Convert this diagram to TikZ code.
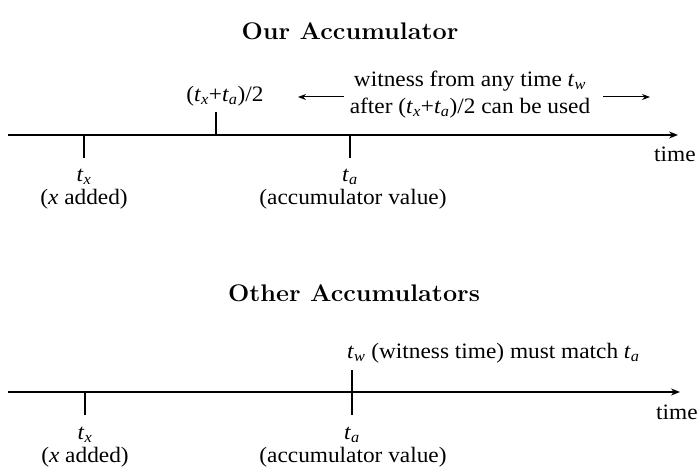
\documentclass[tikz,border=0pt]{standalone}
\usepackage{fontspec}
\usepackage{graphicx}
\usetikzlibrary{arrows.meta}
\newfontfamily\labelfont{Liberation Serif}
\newfontfamily\titlefont{Latin Modern Roman}
% italic time symbol with an italic subscript
\newcommand{\tv}[1]{\textit{t}\textsubscript{\textit{#1}}}
% slightly widened text
\newcommand{\widen}[1]{\scalebox{1.06}[1]{#1}}
\newcommand{\widenttl}[1]{\scalebox{1.05}[1]{#1}}
\begin{document}
\begin{tikzpicture}[x=1pt,y=-1pt,
  lbl/.style={font=\labelfont\fontsize{22}{25}\selectfont, inner sep=0pt},
  ttl/.style={font=\titlefont\bfseries\fontsize{24}{27}\selectfont, inner sep=0pt},
  axis/.style={line width=1.3pt, -{Stealth[length=9pt,width=7pt]}},
  tick/.style={line width=1.2pt},
  hint/.style={line width=1pt, -{Stealth[length=8pt,width=6pt]}}]
\useasboundingbox (0,0) rectangle (699,468);

% ---------- upper timeline ----------
\node[ttl] (t1) at (350,31) {\widenttl{Our Accumulator}};
\coordinate (a1s) at (8,135);
\coordinate (a1e) at (678,135);
\draw[axis] (a1s) -- (a1e);
\node[lbl, anchor=west] (time1) at (654,154) {\widen{time}};

\coordinate (x1a) at (84,135);  \coordinate (x1b) at (84,158);
\coordinate (m1a) at (216,112); \coordinate (m1b) at (216,135);
\coordinate (s1a) at (350,135); \coordinate (s1b) at (350,158);
\draw[tick] (x1a) -- (x1b);
\draw[tick] (m1a) -- (m1b);
\draw[tick] (s1a) -- (s1b);

\node[lbl] (mid1) at (225,96) {\widen{(\tv{x}+\tv{a})/2}};
\node[lbl] (tx1) at (84,177) {\widen{\tv{x}}};
\node[lbl] (xa1) at (84,199) {\widen{(\textit{x} added)}};
\node[lbl] (ta1) at (350,177) {\widen{\tv{a}}};
\node[lbl] (av1) at (353,199) {\widen{(accumulator value)}};

\node[lbl] (w1) at (470,81) {\widen{witness from any time \tv{w}}};
\node[lbl] (w2) at (470,108) {\widen{after (\tv{x}+\tv{a})/2 can be used}};
\coordinate (la) at (344,97); \coordinate (lb) at (298,97);
\coordinate (ra) at (603,97); \coordinate (rb) at (650,97);
\draw[hint] (la) -- (lb);
\draw[hint] (ra) -- (rb);

% ---------- lower timeline ----------
\node[ttl] (t2) at (354,293) {\widenttl{Other Accumulators}};
\coordinate (a2s) at (8,392);
\coordinate (a2e) at (680,392);
\draw[axis] (a2s) -- (a2e);
\node[lbl, anchor=west] (time2) at (656,412) {\widen{time}};

\coordinate (x2a) at (85,392);  \coordinate (x2b) at (85,415);
\coordinate (s2a) at (352,370); \coordinate (s2b) at (352,415);
\draw[tick] (x2a) -- (x2b);
\draw[tick] (s2a) -- (s2b);

\node[lbl, anchor=west] (wt) at (347,353) {\widen{\tv{w} (witness time) must match \tv{a}}};
\node[lbl] (tx2) at (85,435) {\widen{\tv{x}}};
\node[lbl] (xa2) at (85,457) {\widen{(\textit{x} added)}};
\node[lbl] (ta2) at (352,435) {\widen{\tv{a}}};
\node[lbl] (av2) at (353,457) {\widen{(accumulator value)}};
\end{tikzpicture}
\end{document}
